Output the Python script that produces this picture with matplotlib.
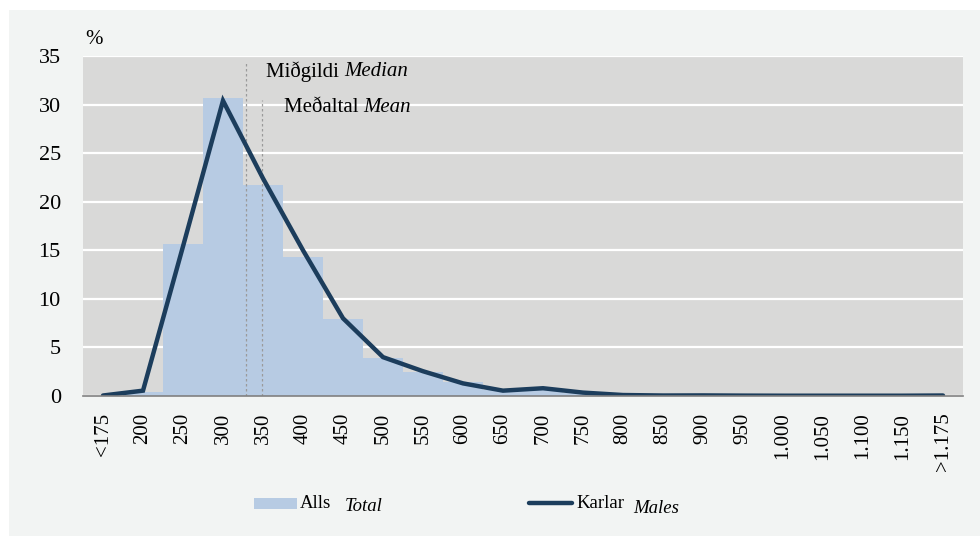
import matplotlib
matplotlib.use("Agg")
import matplotlib.pyplot as plt
from matplotlib.patches import Rectangle
from matplotlib.lines import Line2D

categories = ['<175', '200', '250', '300', '350', '400', '450', '500', '550', '600',
              '650', '700', '750', '800', '850', '900', '950', '1.000', '1.050',
              '1.100', '1.150', '>1.175']
total = [0.0, 0.4, 15.65, 30.65, 21.7, 14.3, 7.95, 3.95, 2.5, 1.4, 0.6, 0.75,
         0.35, 0.1, 0.05, 0.05, 0.03, 0.02, 0.02, 0.01, 0.01, 0.02]
males = [0.05, 0.55, 15.4, 30.4, 22.4, 15.0, 8.0, 4.0, 2.55, 1.3, 0.55, 0.8,
         0.35, 0.1, 0.05, 0.06, 0.04, 0.03, 0.03, 0.03, 0.03, 0.05]
yticks = [0, 5, 10, 15, 20, 25, 30, 35]
median_pos = 3.57   # category-index position
mean_pos = 3.97
median_top = 34.3
mean_top = 30.5

W, H = 980, 536
plt.rcParams['font.family'] = ['Liberation Serif', 'DejaVu Serif']
fig = plt.figure(figsize=(W / 100, H / 100), dpi=100, facecolor='white')
fig.patches.append(Rectangle((9 / W, 0), 1 - 9 / W, (H - 10) / H, transform=fig.transFigure,
                             facecolor='#f2f4f3', edgecolor='none', zorder=-10))

ax = fig.add_axes([83 / W, 140 / H, 880 / W, 340 / H])
ax.set_zorder(1)
ax.set_facecolor('#d9d9d8')
x = list(range(len(categories)))
ax.bar(x, total, width=1.0, color='#b7cbe3', zorder=2)
ax.plot(x, males, color='#1c3d5c', lw=3.2, solid_capstyle='round',
        solid_joinstyle='miter', zorder=4)
ax.vlines([median_pos], 0, median_top, colors='#9a9a9a', linestyles=(0, (2, 2)), lw=0.9, zorder=3)
ax.vlines([mean_pos], 0, mean_top, colors='#9a9a9a', linestyles=(0, (2, 2)), lw=0.9, zorder=3)

ax.set_xlim(-0.5, len(categories) - 0.5)
ax.set_ylim(0, 35)
ax.set_yticks(yticks)
ax.set_yticklabels([str(v) for v in yticks], fontsize=16)
ax.set_xticks(x)
ax.set_xticklabels(categories, rotation=90, fontsize=15, va='top')
ax.tick_params(axis='y', length=0, pad=16)
ax.tick_params(axis='x', length=0, pad=12)
ax.grid(axis='y', color='white', lw=1.6, zorder=1)
ax.set_axisbelow(True)
for s in ['top', 'right', 'left']:
    ax.spines[s].set_visible(False)
ax.spines['bottom'].set_color('#808080')
ax.spines['bottom'].set_linewidth(1.2)
ax.spines['bottom'].set_zorder(5)

# annotations
ax.text(median_pos + 0.5, 33.4, 'Miðgildi ', fontsize=15, va='center', ha='left')
t1 = ax.text(median_pos + 0.5, 33.4, 'Miðgildi ', fontsize=15, va='center', ha='left', alpha=0)
fig.canvas.draw()
r = fig.canvas.get_renderer()
bb = t1.get_window_extent(r)
xa = ax.transData.inverted().transform((bb.x1, bb.y0))[0]
ax.text(xa, 33.4, 'Median', fontsize=15, va='center', ha='left', style='italic')

ax.text(mean_pos + 0.55, 29.7, 'Meðaltal ', fontsize=15, va='center', ha='left')
t2 = ax.text(mean_pos + 0.55, 29.7, 'Meðaltal ', fontsize=15, va='center', ha='left', alpha=0)
bb = t2.get_window_extent(r)
xb = ax.transData.inverted().transform((bb.x1, bb.y0))[0]
ax.text(xb, 29.7, 'Mean', fontsize=15, va='center', ha='left', style='italic')

fig.text(85 / W, 1 - 40 / H, '%', fontsize=15, va='center', ha='left')

# legend
ly = 1 - 504 / H
fig.patches.append(Rectangle((254 / W, 1 - 509 / H), 43 / W, 11 / H, transform=fig.transFigure,
                             facecolor='#b7cbe3', edgecolor='none', zorder=3))
fig.text(300 / W, ly, 'Alls', fontsize=13.5, va='center', ha='left')
fig.text(345 / W, ly - 0.004, 'Total', fontsize=13.5, va='center', ha='left', style='italic')
fig.lines.append(Line2D([529 / W, 572 / W], [1 - 503 / H, 1 - 503 / H], transform=fig.transFigure,
                        color='#1c3d5c', lw=3.2, solid_capstyle='round'))
fig.text(576 / W, ly, 'Karlar', fontsize=13.5, va='center', ha='left')
fig.text(633 / W, ly - 0.008, 'Males', fontsize=13.5, va='center', ha='left', style='italic')

fig.savefig('out.png', dpi=100, facecolor='white')
